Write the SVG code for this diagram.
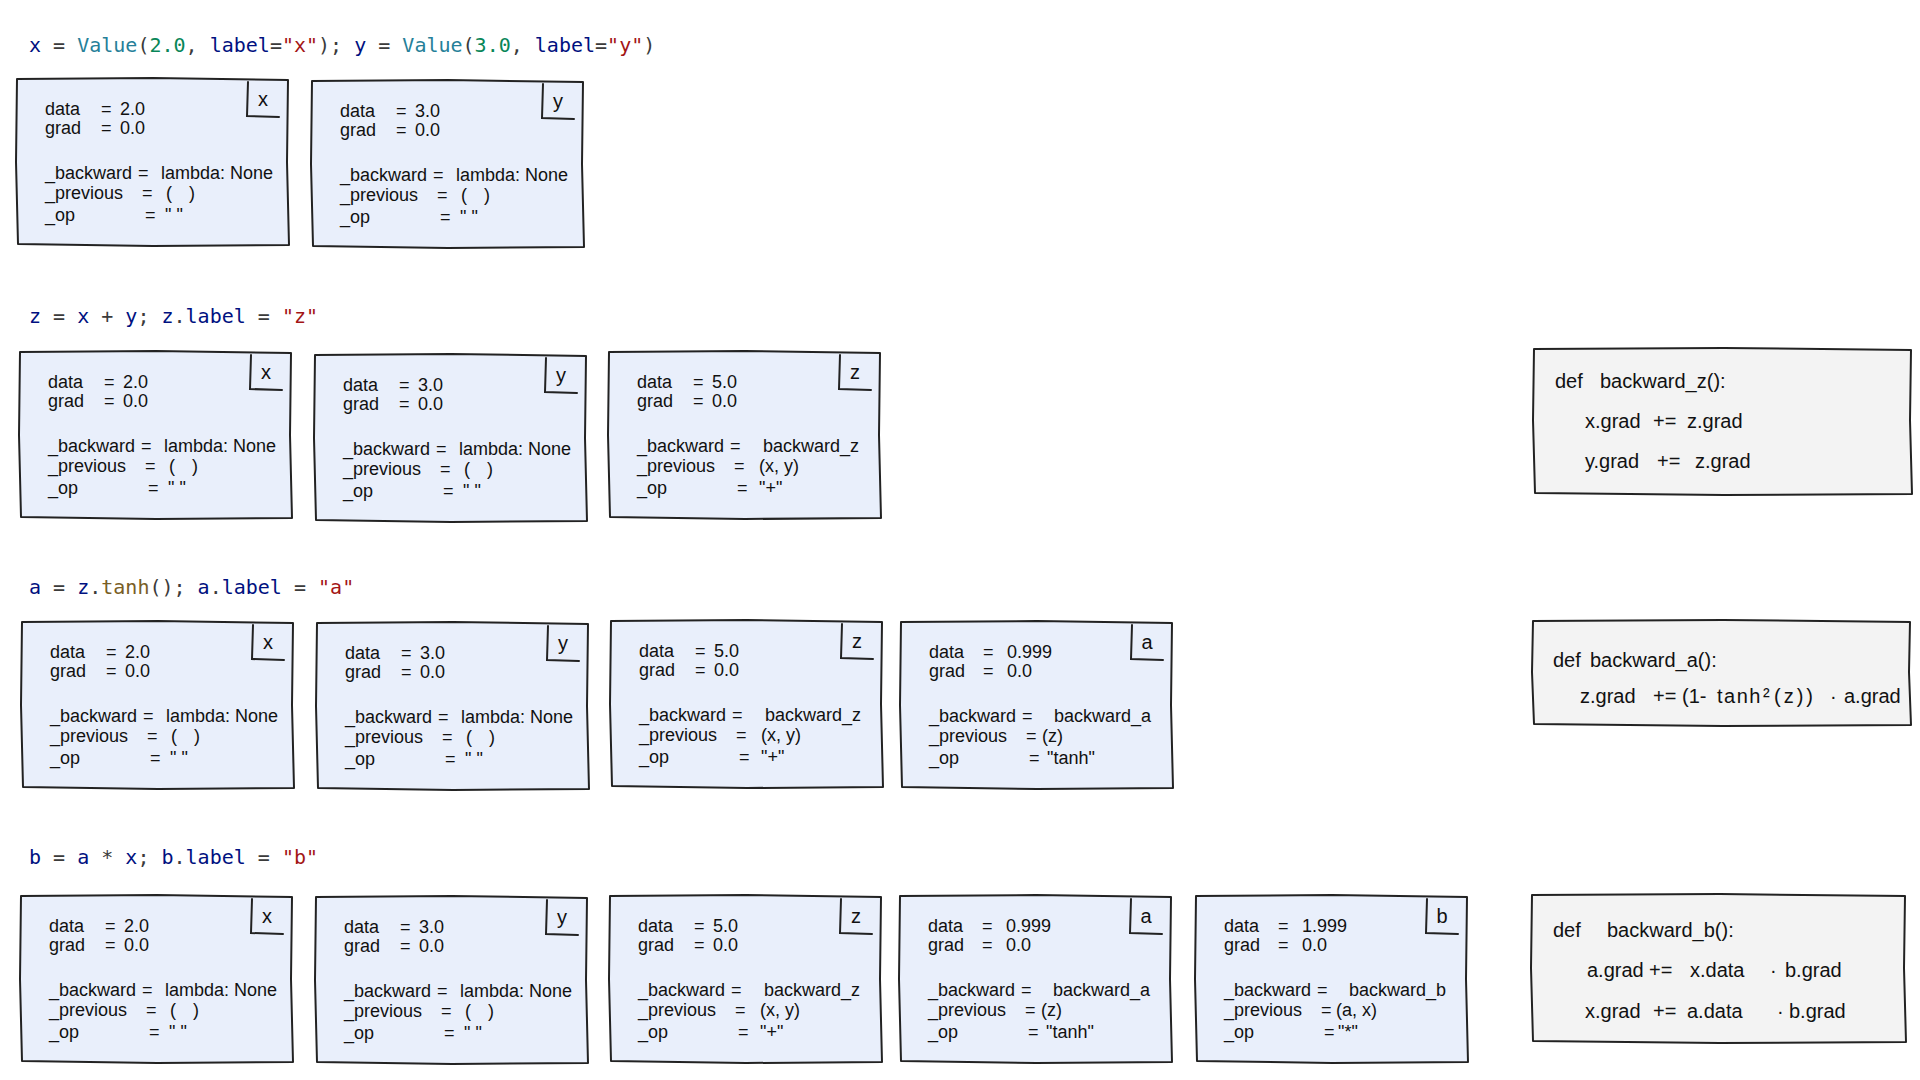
<svg xmlns="http://www.w3.org/2000/svg" width="1920" height="1080" viewBox="0 0 1920 1080">
<style>
.bg{fill:#ffffff}
.box{fill:#e9effb;stroke:#222;stroke-width:2;stroke-linejoin:round}
.cbox{fill:#f3f3f3;stroke:#222;stroke-width:2;stroke-linejoin:round}
.corner{fill:none;stroke:#222;stroke-width:2;stroke-linecap:round}
.hw{font-family:"Liberation Sans",Arial,sans-serif;font-size:18px;fill:#111}
.ws{word-spacing:12px}
.lbl{font-family:"Liberation Sans",Arial,sans-serif;font-size:20px;fill:#111;text-anchor:middle}
.cd{font-family:"Liberation Sans",Arial,sans-serif;font-size:20px;fill:#111}
.sp{letter-spacing:1.5px}
.sp3{letter-spacing:3px}
.mono{font-family:"DejaVu Sans Mono",monospace;font-size:20px;fill:#3b3b3b}
.nv{fill:#001080}.cl{fill:#267f99}.nm{fill:#098658}.st{fill:#a31515}.fn{fill:#795e26}
</style>
<defs>
<path id="vbox" d="M0,1 L136,0 L271,2 L270,84 L272,167 L136,168 L1,166 L-1,84 Z"/>
<path id="corner" d="M231,4 L230,38 L262,39"/>
</defs>
<rect class="bg" x="0" y="0" width="1920" height="1080"/>

<g id="headers">
<text class="mono" x="29" y="52" xml:space="preserve"><tspan class="nv">x</tspan> = <tspan class="cl">Value</tspan>(<tspan class="nm">2.0</tspan>, <tspan class="nv">label</tspan>=<tspan class="st">"x"</tspan>); <tspan class="nv">y</tspan> = <tspan class="cl">Value</tspan>(<tspan class="nm">3.0</tspan>, <tspan class="nv">label</tspan>=<tspan class="st">"y"</tspan>)</text>
<text class="mono" x="29" y="323" xml:space="preserve"><tspan class="nv">z</tspan> = <tspan class="nv">x</tspan> + <tspan class="nv">y</tspan>; <tspan class="nv">z</tspan>.<tspan class="nv">label</tspan> = <tspan class="st">"z"</tspan></text>
<text class="mono" x="29" y="594" xml:space="preserve"><tspan class="nv">a</tspan> = <tspan class="nv">z</tspan>.<tspan class="fn">tanh</tspan>(); <tspan class="nv">a</tspan>.<tspan class="nv">label</tspan> = <tspan class="st">"a"</tspan></text>
<text class="mono" x="29" y="864" xml:space="preserve"><tspan class="nv">b</tspan> = <tspan class="nv">a</tspan> * <tspan class="nv">x</tspan>; <tspan class="nv">b</tspan>.<tspan class="nv">label</tspan> = <tspan class="st">"b"</tspan></text>
</g>

<g id="connectors"></g>

<!-- Row 1 -->
<g id="r1-x" transform="translate(17,78)">
<use href="#vbox" class="box"/><use href="#corner" class="corner"/>
<text class="lbl" x="246" y="28">x</text>
<text class="hw" y="37"><tspan x="28">data </tspan><tspan x="84">= </tspan><tspan x="103">2.0</tspan></text>
<text class="hw" y="56"><tspan x="28">grad </tspan><tspan x="84">= </tspan><tspan x="103">0.0</tspan></text>
<text class="hw" y="101"><tspan x="28">_backward </tspan><tspan x="121">= </tspan><tspan x="144">lambda: None</tspan></text>
<text class="hw ws" y="121"><tspan x="28">_previous </tspan><tspan x="125">= </tspan><tspan x="149">( )</tspan></text>
<text class="hw" y="143"><tspan x="28">_op </tspan><tspan x="128">= </tspan><tspan x="148">" "</tspan></text>
</g>
<g id="r1-y" transform="translate(312,80)">
<use href="#vbox" class="box"/><use href="#corner" class="corner"/>
<text class="lbl" x="246" y="28">y</text>
<text class="hw" y="37"><tspan x="28">data </tspan><tspan x="84">= </tspan><tspan x="103">3.0</tspan></text>
<text class="hw" y="56"><tspan x="28">grad </tspan><tspan x="84">= </tspan><tspan x="103">0.0</tspan></text>
<text class="hw" y="101"><tspan x="28">_backward </tspan><tspan x="121">= </tspan><tspan x="144">lambda: None</tspan></text>
<text class="hw ws" y="121"><tspan x="28">_previous </tspan><tspan x="125">= </tspan><tspan x="149">( )</tspan></text>
<text class="hw" y="143"><tspan x="28">_op </tspan><tspan x="128">= </tspan><tspan x="148">" "</tspan></text>
</g>

<!-- Row 2 -->
<g id="r2-x" transform="translate(20,351)">
<use href="#vbox" class="box"/><use href="#corner" class="corner"/>
<text class="lbl" x="246" y="28">x</text>
<text class="hw" y="37"><tspan x="28">data </tspan><tspan x="84">= </tspan><tspan x="103">2.0</tspan></text>
<text class="hw" y="56"><tspan x="28">grad </tspan><tspan x="84">= </tspan><tspan x="103">0.0</tspan></text>
<text class="hw" y="101"><tspan x="28">_backward </tspan><tspan x="121">= </tspan><tspan x="144">lambda: None</tspan></text>
<text class="hw ws" y="121"><tspan x="28">_previous </tspan><tspan x="125">= </tspan><tspan x="149">( )</tspan></text>
<text class="hw" y="143"><tspan x="28">_op </tspan><tspan x="128">= </tspan><tspan x="148">" "</tspan></text>
</g>
<g id="r2-y" transform="translate(315,354)">
<use href="#vbox" class="box"/><use href="#corner" class="corner"/>
<text class="lbl" x="246" y="28">y</text>
<text class="hw" y="37"><tspan x="28">data </tspan><tspan x="84">= </tspan><tspan x="103">3.0</tspan></text>
<text class="hw" y="56"><tspan x="28">grad </tspan><tspan x="84">= </tspan><tspan x="103">0.0</tspan></text>
<text class="hw" y="101"><tspan x="28">_backward </tspan><tspan x="121">= </tspan><tspan x="144">lambda: None</tspan></text>
<text class="hw ws" y="121"><tspan x="28">_previous </tspan><tspan x="125">= </tspan><tspan x="149">( )</tspan></text>
<text class="hw" y="143"><tspan x="28">_op </tspan><tspan x="128">= </tspan><tspan x="148">" "</tspan></text>
</g>
<g id="r2-z" transform="translate(609,351)">
<use href="#vbox" class="box"/><use href="#corner" class="corner"/>
<text class="lbl" x="246" y="28">z</text>
<text class="hw" y="37"><tspan x="28">data </tspan><tspan x="84">= </tspan><tspan x="103">5.0</tspan></text>
<text class="hw" y="56"><tspan x="28">grad </tspan><tspan x="84">= </tspan><tspan x="103">0.0</tspan></text>
<text class="hw" y="101"><tspan x="28">_backward </tspan><tspan x="121">= </tspan><tspan x="154">backward_z</tspan></text>
<text class="hw" y="121"><tspan x="28">_previous </tspan><tspan x="125">= </tspan><tspan x="150">(x, y)</tspan></text>
<text class="hw" y="143"><tspan x="28">_op </tspan><tspan x="128">= </tspan><tspan x="150">"+"</tspan></text>
</g>
<g id="code-z" transform="translate(1534,348)">
<path class="cbox" d="M0,1 L190,0 L377,2 L376,72 L378,146 L190,147 L1,145 L-1,72 Z"/>
<text class="cd" y="40"><tspan x="21">def </tspan><tspan x="66">backward_z():</tspan></text>
<text class="cd" y="80"><tspan x="51">x.grad </tspan><tspan x="119">+= </tspan><tspan x="153">z.grad</tspan></text>
<text class="cd" y="120"><tspan x="51">y.grad </tspan><tspan x="123">+= </tspan><tspan x="161">z.grad</tspan></text>
</g>

<!-- Row 3 -->
<g id="r3-x" transform="translate(22,621)">
<use href="#vbox" class="box"/><use href="#corner" class="corner"/>
<text class="lbl" x="246" y="28">x</text>
<text class="hw" y="37"><tspan x="28">data </tspan><tspan x="84">= </tspan><tspan x="103">2.0</tspan></text>
<text class="hw" y="56"><tspan x="28">grad </tspan><tspan x="84">= </tspan><tspan x="103">0.0</tspan></text>
<text class="hw" y="101"><tspan x="28">_backward </tspan><tspan x="121">= </tspan><tspan x="144">lambda: None</tspan></text>
<text class="hw ws" y="121"><tspan x="28">_previous </tspan><tspan x="125">= </tspan><tspan x="149">( )</tspan></text>
<text class="hw" y="143"><tspan x="28">_op </tspan><tspan x="128">= </tspan><tspan x="148">" "</tspan></text>
</g>
<g id="r3-y" transform="translate(317,622)">
<use href="#vbox" class="box"/><use href="#corner" class="corner"/>
<text class="lbl" x="246" y="28">y</text>
<text class="hw" y="37"><tspan x="28">data </tspan><tspan x="84">= </tspan><tspan x="103">3.0</tspan></text>
<text class="hw" y="56"><tspan x="28">grad </tspan><tspan x="84">= </tspan><tspan x="103">0.0</tspan></text>
<text class="hw" y="101"><tspan x="28">_backward </tspan><tspan x="121">= </tspan><tspan x="144">lambda: None</tspan></text>
<text class="hw ws" y="121"><tspan x="28">_previous </tspan><tspan x="125">= </tspan><tspan x="149">( )</tspan></text>
<text class="hw" y="143"><tspan x="28">_op </tspan><tspan x="128">= </tspan><tspan x="148">" "</tspan></text>
</g>
<g id="r3-z" transform="translate(611,620)">
<use href="#vbox" class="box"/><use href="#corner" class="corner"/>
<text class="lbl" x="246" y="28">z</text>
<text class="hw" y="37"><tspan x="28">data </tspan><tspan x="84">= </tspan><tspan x="103">5.0</tspan></text>
<text class="hw" y="56"><tspan x="28">grad </tspan><tspan x="84">= </tspan><tspan x="103">0.0</tspan></text>
<text class="hw" y="101"><tspan x="28">_backward </tspan><tspan x="121">= </tspan><tspan x="154">backward_z</tspan></text>
<text class="hw" y="121"><tspan x="28">_previous </tspan><tspan x="125">= </tspan><tspan x="150">(x, y)</tspan></text>
<text class="hw" y="143"><tspan x="28">_op </tspan><tspan x="128">= </tspan><tspan x="150">"+"</tspan></text>
</g>
<g id="r3-a" transform="translate(901,621)">
<use href="#vbox" class="box"/><use href="#corner" class="corner"/>
<text class="lbl" x="246" y="28">a</text>
<text class="hw" y="37"><tspan x="28">data </tspan><tspan x="82">= </tspan><tspan x="106">0.999</tspan></text>
<text class="hw" y="56"><tspan x="28">grad </tspan><tspan x="82">= </tspan><tspan x="106">0.0</tspan></text>
<text class="hw" y="101"><tspan x="28">_backward </tspan><tspan x="121">= </tspan><tspan x="153">backward_a</tspan></text>
<text class="hw" y="121"><tspan x="28">_previous </tspan><tspan x="125">= </tspan><tspan x="141">(z)</tspan></text>
<text class="hw" y="143"><tspan x="28">_op </tspan><tspan x="128">= </tspan><tspan x="146">"tanh"</tspan></text>
</g>
<g id="code-a" transform="translate(1533,620)">
<path class="cbox" d="M0,1 L190,0 L377,2 L376,52 L378,105 L190,106 L1,104 L-1,52 Z"/>
<text class="cd" y="47"><tspan x="20">def </tspan><tspan x="57">backward_a():</tspan></text>
<text class="cd" y="83"><tspan x="47">z.grad </tspan><tspan x="120">+= </tspan><tspan x="149">(1- </tspan><tspan x="184" class="sp">tanh</tspan><tspan x="230">²</tspan><tspan x="241" class="sp3">(z)) </tspan><tspan x="297">· </tspan><tspan x="311">a.grad</tspan></text>
</g>

<!-- Row 4 -->
<g id="r4-x" transform="translate(21,895)">
<use href="#vbox" class="box"/><use href="#corner" class="corner"/>
<text class="lbl" x="246" y="28">x</text>
<text class="hw" y="37"><tspan x="28">data </tspan><tspan x="84">= </tspan><tspan x="103">2.0</tspan></text>
<text class="hw" y="56"><tspan x="28">grad </tspan><tspan x="84">= </tspan><tspan x="103">0.0</tspan></text>
<text class="hw" y="101"><tspan x="28">_backward </tspan><tspan x="121">= </tspan><tspan x="144">lambda: None</tspan></text>
<text class="hw ws" y="121"><tspan x="28">_previous </tspan><tspan x="125">= </tspan><tspan x="149">( )</tspan></text>
<text class="hw" y="143"><tspan x="28">_op </tspan><tspan x="128">= </tspan><tspan x="148">" "</tspan></text>
</g>
<g id="r4-y" transform="translate(316,896)">
<use href="#vbox" class="box"/><use href="#corner" class="corner"/>
<text class="lbl" x="246" y="28">y</text>
<text class="hw" y="37"><tspan x="28">data </tspan><tspan x="84">= </tspan><tspan x="103">3.0</tspan></text>
<text class="hw" y="56"><tspan x="28">grad </tspan><tspan x="84">= </tspan><tspan x="103">0.0</tspan></text>
<text class="hw" y="101"><tspan x="28">_backward </tspan><tspan x="121">= </tspan><tspan x="144">lambda: None</tspan></text>
<text class="hw ws" y="121"><tspan x="28">_previous </tspan><tspan x="125">= </tspan><tspan x="149">( )</tspan></text>
<text class="hw" y="143"><tspan x="28">_op </tspan><tspan x="128">= </tspan><tspan x="148">" "</tspan></text>
</g>
<g id="r4-z" transform="translate(610,895)">
<use href="#vbox" class="box"/><use href="#corner" class="corner"/>
<text class="lbl" x="246" y="28">z</text>
<text class="hw" y="37"><tspan x="28">data </tspan><tspan x="84">= </tspan><tspan x="103">5.0</tspan></text>
<text class="hw" y="56"><tspan x="28">grad </tspan><tspan x="84">= </tspan><tspan x="103">0.0</tspan></text>
<text class="hw" y="101"><tspan x="28">_backward </tspan><tspan x="121">= </tspan><tspan x="154">backward_z</tspan></text>
<text class="hw" y="121"><tspan x="28">_previous </tspan><tspan x="125">= </tspan><tspan x="150">(x, y)</tspan></text>
<text class="hw" y="143"><tspan x="28">_op </tspan><tspan x="128">= </tspan><tspan x="150">"+"</tspan></text>
</g>
<g id="r4-a" transform="translate(900,895)">
<use href="#vbox" class="box"/><use href="#corner" class="corner"/>
<text class="lbl" x="246" y="28">a</text>
<text class="hw" y="37"><tspan x="28">data </tspan><tspan x="82">= </tspan><tspan x="106">0.999</tspan></text>
<text class="hw" y="56"><tspan x="28">grad </tspan><tspan x="82">= </tspan><tspan x="106">0.0</tspan></text>
<text class="hw" y="101"><tspan x="28">_backward </tspan><tspan x="121">= </tspan><tspan x="153">backward_a</tspan></text>
<text class="hw" y="121"><tspan x="28">_previous </tspan><tspan x="125">= </tspan><tspan x="141">(z)</tspan></text>
<text class="hw" y="143"><tspan x="28">_op </tspan><tspan x="128">= </tspan><tspan x="146">"tanh"</tspan></text>
</g>
<g id="r4-b" transform="translate(1196,895)">
<use href="#vbox" class="box"/><use href="#corner" class="corner"/>
<text class="lbl" x="246" y="28">b</text>
<text class="hw" y="37"><tspan x="28">data </tspan><tspan x="82">= </tspan><tspan x="106">1.999</tspan></text>
<text class="hw" y="56"><tspan x="28">grad </tspan><tspan x="82">= </tspan><tspan x="106">0.0</tspan></text>
<text class="hw" y="101"><tspan x="28">_backward </tspan><tspan x="121">= </tspan><tspan x="153">backward_b</tspan></text>
<text class="hw" y="121"><tspan x="28">_previous </tspan><tspan x="125">= </tspan><tspan x="140">(a, x)</tspan></text>
<text class="hw" y="143"><tspan x="28">_op </tspan><tspan x="128">= </tspan><tspan x="142">"*"</tspan></text>
</g>
<g id="code-b" transform="translate(1532,894)">
<path class="cbox" d="M0,1 L188,0 L373,2 L372,74 L374,148 L188,149 L1,147 L-1,74 Z"/>
<text class="cd" y="43"><tspan x="21">def </tspan><tspan x="75">backward_b():</tspan></text>
<text class="cd" y="83"><tspan x="55">a.grad </tspan><tspan x="117">+= </tspan><tspan x="158">x.data </tspan><tspan x="238">· </tspan><tspan x="253">b.grad</tspan></text>
<text class="cd" y="124"><tspan x="53">x.grad </tspan><tspan x="121">+= </tspan><tspan x="155">a.data </tspan><tspan x="245">· </tspan><tspan x="257">b.grad</tspan></text>
</g>
</svg>
